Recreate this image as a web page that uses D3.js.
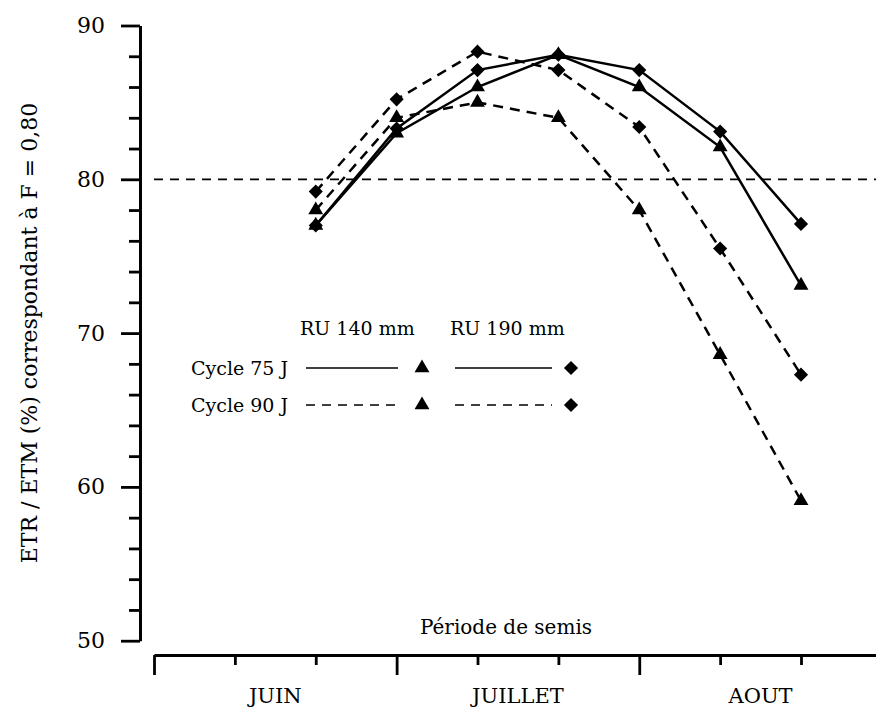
<!DOCTYPE html>
<html>
<head>
<meta charset="utf-8">
<script src="https://cdn.jsdelivr.net/npm/d3@7"></script>
<style>
  html, body { margin: 0; padding: 0; background: #fff; }
  svg { display: block; }
  text { font-family: "DejaVu Serif", "Liberation Serif", serif; fill: #000; }
</style>
</head>
<body>
<svg id="chart" width="876" height="712"></svg>
<script>
// ---- data ----
const periods = [2, 3, 4, 5, 6, 7, 8];           // sowing-period slots (tick index)
const c75_ru140 = [77.0, 83.0, 86.0, 88.1, 86.0, 82.1, 73.1];
const c75_ru190 = [77.0, 83.3, 87.1, 88.1, 87.1, 83.1, 77.1];
const c90_ru140 = [78.0, 84.0, 85.0, 84.0, 78.0, 68.6, 59.1];
const c90_ru190 = [79.2, 85.2, 88.3, 87.1, 83.4, 75.5, 67.3];
const yMajorTicks = [50, 60, 70, 80, 90];
const yMinorTicks = [52, 54, 56, 58, 62, 64, 66, 68, 72, 74, 76, 78, 82, 84, 86, 88];
const xMajorTicks = [0, 3, 6];
const xMinorTicks = [1, 2, 4, 5, 7, 8];
const months = ["JUIN", "JUILLET", "AOUT"];
const refLine = 80;

const svg = d3.select("#chart");
const x = d3.scaleLinear().domain([0, 9]).range([154, 154 + 9 * 80.875]);
const y = d3.scaleLinear().domain([50, 90]).range([640.7, 25.5]);

// ---- y axis ----
const yAx = svg.append("g").attr("transform", "translate(140,0)");
yAx.call(d3.axisLeft(y).tickValues(yMajorTicks).tickSize(19).tickSizeOuter(0).tickPadding(16).tickFormat(d3.format("d")));
yAx.select(".domain").attr("stroke", "#000").attr("stroke-width", 3);
yAx.selectAll(".tick line").attr("stroke", "#000").attr("stroke-width", 2.8);
yAx.selectAll(".tick text").attr("font-size", 22).attr("font-family", "DejaVu Serif").attr("fill", "#000");
const yMin = svg.append("g").attr("transform", "translate(140,0)");
yMin.call(d3.axisLeft(y).tickValues(yMinorTicks).tickSize(11).tickSizeOuter(0).tickFormat(""));
yMin.select(".domain").remove();
yMin.selectAll(".tick line").attr("stroke", "#000").attr("stroke-width", 2.8);

// ---- x axis ----
const xAx = svg.append("g").attr("transform", "translate(0,655)");
xAx.call(d3.axisBottom(x).tickValues(xMajorTicks).tickSize(20).tickSizeOuter(0).tickFormat(""));
xAx.select(".domain").attr("stroke", "#000").attr("stroke-width", 3);
xAx.selectAll(".tick line").attr("stroke", "#000").attr("stroke-width", 2.8);
const xMin = svg.append("g").attr("transform", "translate(0,655)");
xMin.call(d3.axisBottom(x).tickValues(xMinorTicks).tickSize(10).tickSizeOuter(0).tickFormat(""));
xMin.select(".domain").remove();
xMin.selectAll(".tick line").attr("stroke", "#000").attr("stroke-width", 2.8);

svg.selectAll(".month").data(months).enter().append("text")
  .attr("class", "month")
  .attr("x", (d, i) => x(i * 3 + 1.5))
  .attr("y", 703)
  .attr("text-anchor", "middle")
  .attr("font-size", 21)
  .text(d => d);

svg.append("text")
  .attr("x", 506).attr("y", 634)
  .attr("text-anchor", "middle").attr("font-size", 20)
  .text("Période de semis");

svg.append("text")
  .attr("transform", "translate(37,333) rotate(-90)")
  .attr("text-anchor", "middle").attr("font-size", 22)
  .text("ETR / ETM (%) correspondant à F = 0,80");

// ---- reference line ----
svg.append("line")
  .attr("x1", 154).attr("x2", 876)
  .attr("y1", y(refLine)).attr("y2", y(refLine))
  .attr("stroke", "#000").attr("stroke-width", 1.8)
  .attr("stroke-dasharray", "9,7");

// ---- series ----
const series = [
  { vals: c75_ru140, dash: null, sym: "tri" },
  { vals: c75_ru190, dash: null, sym: "dia" },
  { vals: c90_ru140, dash: "10,7", sym: "tri" },
  { vals: c90_ru190, dash: "10,7", sym: "dia" }
];
const triPath = d3.symbol().type(d3.symbolTriangle).size(96)();
const diaPath = d3.symbol().type(d3.symbolSquare).size(100)();
const line = d3.line().x((d, i) => x(periods[i])).y(d => y(d));

series.forEach(s => {
  svg.append("path").datum(s.vals)
    .attr("d", line).attr("fill", "none").attr("stroke", "#000")
    .attr("stroke-width", 2.5)
    .attr("stroke-dasharray", s.dash);
});
series.forEach(s => {
  svg.append("g").selectAll("path").data(s.vals).enter().append("path")
    .attr("d", s.sym === "tri" ? triPath : diaPath)
    .attr("transform", (d, i) => `translate(${x(periods[i])},${y(d)})` + (s.sym === "dia" ? " rotate(45)" : ""))
    .attr("fill", "#000");
});

// ---- legend ----
const lg = svg.append("g");
lg.append("text").attr("x", 300).attr("y", 335).attr("font-size", 19).text("RU 140 mm");
lg.append("text").attr("x", 450).attr("y", 335).attr("font-size", 19).text("RU 190 mm");
const rows = [
  { label: "Cycle 75 J", dash: null, yy: 368 },
  { label: "Cycle 90 J", dash: "9,7", yy: 405 }
];
rows.forEach(r => {
  lg.append("text").attr("x", 191).attr("y", r.yy + 7).attr("font-size", 19).text(r.label);
  lg.append("line").attr("x1", 306).attr("x2", 398).attr("y1", r.yy).attr("y2", r.yy)
    .attr("stroke", "#000").attr("stroke-width", 1.6).attr("stroke-dasharray", r.dash);
  lg.append("path").attr("d", triPath).attr("transform", `translate(422,${r.yy})`).attr("fill", "#000");
  lg.append("line").attr("x1", 455).attr("x2", 552).attr("y1", r.yy).attr("y2", r.yy)
    .attr("stroke", "#000").attr("stroke-width", 1.6).attr("stroke-dasharray", r.dash);
  lg.append("path").attr("d", diaPath).attr("transform", `translate(571,${r.yy}) rotate(45)`).attr("fill", "#000");
});
</script>
</body>
</html>
